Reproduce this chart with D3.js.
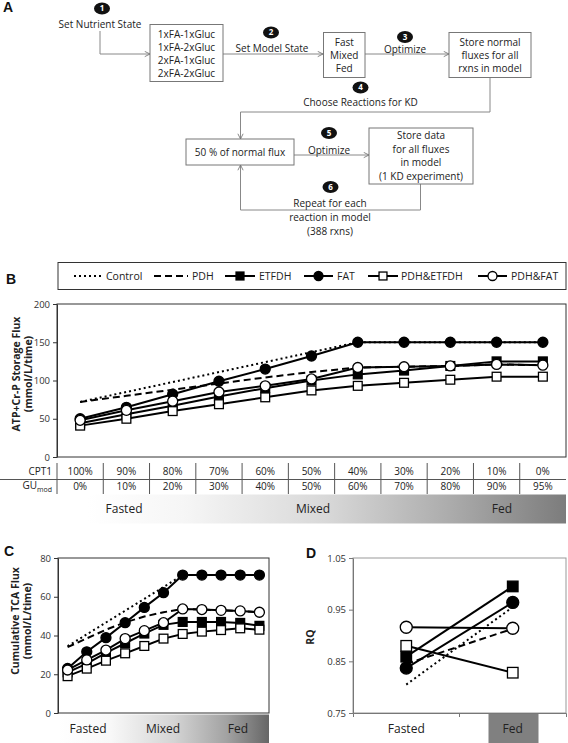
<!DOCTYPE html>
<html><head><meta charset="utf-8">
<script src="https://cdn.jsdelivr.net/npm/d3@7"></script>
<style>body{margin:0;background:#fff;} svg{display:block;font-family:"Open Sans",sans-serif;}</style>
</head><body><svg id="c" width="568" height="743"></svg>
<script>
// ---------- DATA ----------
const seriesNames = ["Control","PDH","ETFDH","FAT","PDH&ETFDH","PDH&FAT"];
const cpt1Labels = ["100%","90%","80%","70%","60%","50%","40%","30%","20%","10%","0%"];
const guLabels = ["0%","10%","20%","30%","40%","50%","60%","70%","80%","90%","95%"];
const bControl   = [72,85,98,111,124,137,150,150,150,150,150];
const bPDH       = [72,80,88,96,104,111,117,118,119,121,120];
const bETFDH     = [44,56,67,79,90,100,108,113,119,125,125];
const bFAT       = [50,65,82,99,115,132,150,150,150,150,150];
const bPDHETFDH  = [41,50,60,69,78,87,93,97,101,105,105];
const bPDHFAT    = [48,61,73,85,93,102,117,118,119,121,120];
const bTicks = [0,50,100,150,200];

const cControl   = [34.5,40.6,46.7,52.8,58.9,65,71.2,71.2,71.2,71.2,71.2];
const cPDH       = [34,38.5,43,46.8,49.8,52,53.7,53.4,53,52.7,52];
const cETFDH     = [21,25.5,31,36,41,45.5,47,47,47,46.5,45];
const cFAT       = [23,31.6,38.9,46.6,54.5,62.1,71.2,71.2,71.2,71.2,71.2];
const cPDHETFDH  = [19,22.9,27,30.8,34.6,38.4,40.8,42,42.8,43.7,43];
const cPDHFAT    = [22.2,27.4,32.5,38.4,42.5,46.6,53.7,53.4,53,52.7,52];
const cTicks = [0,20,40,60,80];
const stateLabels = ["Fasted","Mixed","Fed"];

const dStates = ["Fasted","Fed"];
const dControl  = [0.805,0.955];
const dPDH      = [0.845,0.913];
const dETFDH    = [0.859,0.995];
const dFAT      = [0.837,0.964];
const dPDHETFDH = [0.880,0.828];
const dPDHFAT   = [0.916,0.914];
const dTicks = [0.75,0.85,0.95,1.05];

// ---------- STYLES ----------
const styles = {
  "Control":  {dash:"2,3", marker:null},
  "PDH":      {dash:"7,4", marker:null},
  "ETFDH":    {dash:null, marker:"square", fill:"#000"},
  "FAT":      {dash:null, marker:"circle", fill:"#000"},
  "PDH&ETFDH":{dash:null, marker:"square", fill:"#fff"},
  "PDH&FAT":  {dash:null, marker:"circle", fill:"#fff"}
};
const bSeries = [bControl,bPDH,bETFDH,bFAT,bPDHETFDH,bPDHFAT].map((v,i)=>({name:seriesNames[i],values:v}));
const cSeries = [cControl,cPDH,cETFDH,cFAT,cPDHETFDH,cPDHFAT].map((v,i)=>({name:seriesNames[i],values:v}));
const dSeries = [dControl,dPDH,dETFDH,dFAT,dPDHETFDH,dPDHFAT].map((v,i)=>({name:seriesNames[i],values:v}));

const svg = d3.select("#c");
const FONT = "Open Sans, sans-serif";

// ---------- PANEL LABELS ----------
[["A",3,12],["B",6,284],["C",4,556],["D",306,558]].forEach(([t,x,y])=>{
  svg.append("text").attr("x",x).attr("y",y).text(t)
    .attr("font-family","Arial, Liberation Sans, sans-serif").attr("font-weight","bold").attr("font-size",14).attr("fill","#111");
});

// ---------- PANEL A: FLOWCHART ----------
const defs = svg.append("defs");
defs.append("marker").attr("id","arr").attr("viewBox","0 0 8 8").attr("refX",7).attr("refY",4)
  .attr("markerWidth",7).attr("markerHeight",7).attr("orient","auto")
  .append("path").attr("d","M1,1 L7,4 L1,7").attr("fill","none").attr("stroke","#777").attr("stroke-width",1);
const fc = svg.append("g");
const paths = [
  "M100,31 V54 H150",
  "M223,54 H323",
  "M365,54 H449",
  "M490,77.5 V112 H240.5 V139",
  "M294,155 H369",
  "M420.5,184 V210 H240.5 V165"
];
paths.forEach(d=>fc.append("path").attr("d",d).attr("fill","none").attr("stroke","#888").attr("stroke-width",1).attr("marker-end","url(#arr)"));
const boxes = [
  {x:150,y:24.5,w:73,h:57,lines:["1xFA-1xGluc","1xFA-2xGluc","2xFA-1xGluc","2xFA-2xGluc"],ys:[34.5,47.5,60.5,73.5]},
  {x:323.5,y:32.5,w:41.5,h:45,lines:["Fast","Mixed","Fed"],ys:[42.5,55.5,68.5]},
  {x:449,y:32.5,w:82,h:45,lines:["Store normal","fluxes for all","rxns in model"],ys:[42.5,55.5,68.5]},
  {x:186,y:139,w:108,h:26,lines:["50 % of normal flux"],ys:[152]},
  {x:369,y:128,w:104,h:56,lines:["Store data","for all fluxes","in model","(1 KD experiment)"],ys:[135,149,162,176]}
];
boxes.forEach(b=>{
  fc.append("rect").attr("x",b.x).attr("y",b.y).attr("width",b.w).attr("height",b.h).attr("fill","#fff").attr("stroke","#777");
  b.lines.forEach((l,i)=>fc.append("text").attr("x",b.x+b.w/2).attr("y",b.ys[i]).attr("dy","0.35em")
    .attr("text-anchor","middle").attr("font-size",10).attr("fill","#222").text(l));
});
const badges = [[1,102,8.5],[2,271,32.5],[3,405,37],[4,360.5,87.5],[5,329,133],[6,330.5,187]];
badges.forEach(([n,x,y])=>{
  fc.append("ellipse").attr("cx",x).attr("cy",y).attr("rx",8).attr("ry",6).attr("fill","#111");
  fc.append("text").attr("x",x).attr("y",y).attr("dy","0.35em").attr("text-anchor","middle")
    .attr("font-size",8).attr("font-weight","bold").attr("fill","#fff").text(n);
});
const labelsA = [["Set Nutrient State",100,24.5],["Set Model State",272,48],["Optimize",405,49.5],
  ["Choose Reactions for KD",360.5,102],["Optimize",329,150],["Repeat for each",330,203],
  ["reaction in model",330,217],["(388 rxns)",330,231]];
labelsA.forEach(([t,x,y])=>fc.append("text").attr("x",x).attr("y",y).attr("dy","0.35em")
  .attr("text-anchor","middle").attr("font-size",10).attr("fill","#222").text(t));

// ---------- helpers ----------
function drawMarker(g, st, x, y, size){
  if(st.marker==="circle"){
    g.append("circle").attr("cx",x).attr("cy",y).attr("r",size/2).attr("fill",st.fill).attr("stroke","#000").attr("stroke-width",1.3);
  } else if(st.marker==="square"){
    const s=size*0.88;
    g.append("rect").attr("x",x-s/2).attr("y",y-s/2).attr("width",s).attr("height",s).attr("fill",st.fill).attr("stroke","#000").attr("stroke-width",1.3);
  }
}
function drawSeries(g, series, xs, ys, msize){
  const line = d3.line().x((d,i)=>xs(i)).y(d=>ys(d));
  series.forEach(s=>{
    const st = styles[s.name];
    g.append("path").attr("d",line(s.values)).attr("fill","none").attr("stroke","#000")
      .attr("stroke-width",2).attr("stroke-dasharray",st.dash);
  });
  series.forEach(s=>{
    const st = styles[s.name];
    if(st.marker) s.values.forEach((v,i)=>drawMarker(g,st,xs(i),ys(v),msize));
  });
}
function styleAxis(a, col){
  a.select(".domain").attr("stroke",col); a.selectAll("line").attr("stroke",col);
  a.selectAll("text").attr("font-family",FONT).attr("font-size",9.5).attr("fill","#333");
}

// ---------- LEGEND ----------
const lg = svg.append("g");
lg.append("rect").attr("x",58).attr("y",262.5).attr("width",508).attr("height",27).attr("fill","#fff").attr("stroke","#333");
const legPos = [[74,103,106],[154,188,192],[225,255,259],[304,333,337],[368,398,401],[478,507,511]];
seriesNames.forEach((n,i)=>{
  const [x0,x1,tx]=legPos[i]; const st=styles[n]; const ly=276;
  lg.append("line").attr("x1",x0).attr("x2",x1).attr("y1",ly).attr("y2",ly).attr("stroke","#000").attr("stroke-width",2).attr("stroke-dasharray",st.dash);
  if(st.marker) drawMarker(lg,st,(x0+x1)/2,ly,9);
  lg.append("text").attr("x",tx).attr("y",ly).attr("dy","0.35em").attr("font-size",10.5).attr("fill","#222").text(n);
});

// ---------- PANEL B ----------
const bx = d3.scaleBand().domain(d3.range(11)).range([57,566]);
const bxc = i=>bx(i)+bx.bandwidth()/2;
const by = d3.scaleLinear().domain([0,200]).range([457,304]);
const gB = svg.append("g");
gB.append("rect").attr("x",57).attr("y",304).attr("width",509).attr("height",153).attr("fill","#fff").attr("stroke","#333");
gB.append("g").attr("transform","translate(57,0)").call(d3.axisLeft(by).tickValues(bTicks).tickSize(4).tickSizeOuter(0))
  .call(a=>styleAxis(a,"#333"));
drawSeries(gB,bSeries,bxc,by,10);
const ytB = gB.append("text").attr("transform","translate(20,374) rotate(-90)").attr("text-anchor","middle")
  .attr("font-size",10.5).attr("font-weight","bold").attr("fill","#222");
ytB.append("tspan").attr("x",0).attr("dy",0).text("ATP+Cr-P Storage Flux");
ytB.append("tspan").attr("x",0).attr("dy",11.5).text("(mmol/L/time)");

// table
const tb = svg.append("g");
tb.append("line").attr("x1",0).attr("x2",566).attr("y1",479.5).attr("y2",479.5).attr("stroke","#555");
d3.range(11).forEach(i=>{
  tb.append("line").attr("x1",bx(i)).attr("x2",bx(i)).attr("y1",463).attr("y2",479).attr("stroke","#555");
  tb.append("line").attr("x1",bx(i)).attr("x2",bx(i)).attr("y1",480).attr("y2",494).attr("stroke","#555");
});
tb.selectAll(".cp").data(cpt1Labels).enter().append("text").attr("x",(d,i)=>bxc(i)).attr("y",471.5).attr("dy","0.35em")
  .attr("text-anchor","middle").attr("font-size",10).attr("fill","#222").text(d=>d);
tb.selectAll(".gu").data(guLabels).enter().append("text").attr("x",(d,i)=>bxc(i)).attr("y",486.5).attr("dy","0.35em")
  .attr("text-anchor","middle").attr("font-size",10).attr("fill","#222").text(d=>d);
tb.append("text").attr("x",52).attr("y",471.5).attr("dy","0.35em").attr("text-anchor","end").attr("font-size",10).attr("fill","#222").text("CPT1");
const gu = tb.append("text").attr("x",52).attr("y",485.5).attr("dy","0.35em").attr("text-anchor","end").attr("font-size",10).attr("fill","#222");
gu.append("tspan").text("GU");
gu.append("tspan").attr("font-size",7).attr("dy",2.5).text("mod");

// gradients
const gradB = defs.append("linearGradient").attr("id","gB");
[[0,"#ffffff"],[0.2,"#f6f6f6"],[0.5,"#d8d8d8"],[0.75,"#adadad"],[1,"#7c7c7c"]].forEach(([o,c])=>gradB.append("stop").attr("offset",o).attr("stop-color",c));
const gradC = defs.append("linearGradient").attr("id","gC");
[[0,"#ffffff"],[0.25,"#f8f8f8"],[0.55,"#d4d4d4"],[0.8,"#a2a2a2"],[1,"#666666"]].forEach(([o,c])=>gradC.append("stop").attr("offset",o).attr("stop-color",c));
tb.append("rect").attr("x",88).attr("y",494.5).attr("width",478).attr("height",29).attr("fill","url(#gB)");
const stateXB = d3.scalePoint().domain(stateLabels).range([124,502]);
stateLabels.forEach(s=>tb.append("text").attr("x",stateXB(s)).attr("y",509).attr("dy","0.35em").attr("text-anchor","middle")
  .attr("font-size",12).attr("fill","#222").text(s));

// ---------- PANEL C ----------
const cx = d3.scaleBand().domain(d3.range(11)).range([58,269]);
const cxc = i=>cx(i)+cx.bandwidth()/2;
const cy = d3.scaleLinear().domain([0,80]).range([713,558]);
const gC = svg.append("g");
gC.append("rect").attr("x",58).attr("y",558).attr("width",211).attr("height",155).attr("fill","#fff").attr("stroke","#333");
gC.append("g").attr("transform","translate(58,0)").call(d3.axisLeft(cy).tickValues(cTicks).tickSize(4).tickSizeOuter(0))
  .call(a=>styleAxis(a,"#333"));
drawSeries(gC,cSeries,cxc,cy,10);
const ytC = gC.append("text").attr("transform","translate(19,621) rotate(-90)").attr("text-anchor","middle")
  .attr("font-size",10.5).attr("font-weight","bold").attr("fill","#222");
ytC.append("tspan").attr("x",0).attr("dy",0).text("Cumulative TCA Flux");
ytC.append("tspan").attr("x",0).attr("dy",11.5).text("(mmol/L/time)");
gC.append("rect").attr("x",58).attr("y",714.5).attr("width",211).attr("height",28.5).attr("fill","url(#gC)");
const stateXC = d3.scalePoint().domain(stateLabels).range([88,238]);
stateLabels.forEach(s=>gC.append("text").attr("x",stateXC(s)).attr("y",729).attr("dy","0.35em").attr("text-anchor","middle")
  .attr("font-size",12).attr("fill","#222").text(s));

// ---------- PANEL D ----------
const dx = d3.scaleBand().domain(dStates).range([353,566]);
const dxc = i=>dx(dStates[i])+dx.bandwidth()/2;
const dy = d3.scaleLinear().domain([0.75,1.05]).range([713,558]);
const gD = svg.append("g");
gD.append("rect").attr("x",353).attr("y",558).attr("width",213).attr("height",155).attr("fill","#fff").attr("stroke","#999");
gD.append("rect").attr("x",dx("Fed")+29).attr("y",713).attr("width",50).attr("height",30).attr("fill","#808080");
gD.append("g").attr("transform","translate(353,0)").call(d3.axisLeft(dy).tickValues(dTicks).tickFormat(d3.format(".2f")).tickSize(4).tickSizeOuter(0))
  .call(a=>styleAxis(a,"#777"));
gD.append("g").attr("transform","translate(0,713)").call(d3.axisBottom(dx).tickValues([]).tickSizeOuter(4))
  .call(a=>{a.select(".domain").attr("stroke","#777");});
gD.append("line").attr("x1",dx("Fed")).attr("x2",dx("Fed")).attr("y1",713).attr("y2",717).attr("stroke","#777");
drawSeries(gD,dSeries,dxc,dy,12);
gD.append("text").attr("transform","translate(314,637) rotate(-90)").attr("text-anchor","middle")
  .attr("font-size",10.5).attr("font-weight","bold").attr("fill","#222").text("RQ");
dStates.forEach((s,i)=>gD.append("text").attr("x",dxc(i)).attr("y",729).attr("dy","0.35em").attr("text-anchor","middle")
  .attr("font-size",12).attr("fill","#222").text(s));
</script></body></html>
